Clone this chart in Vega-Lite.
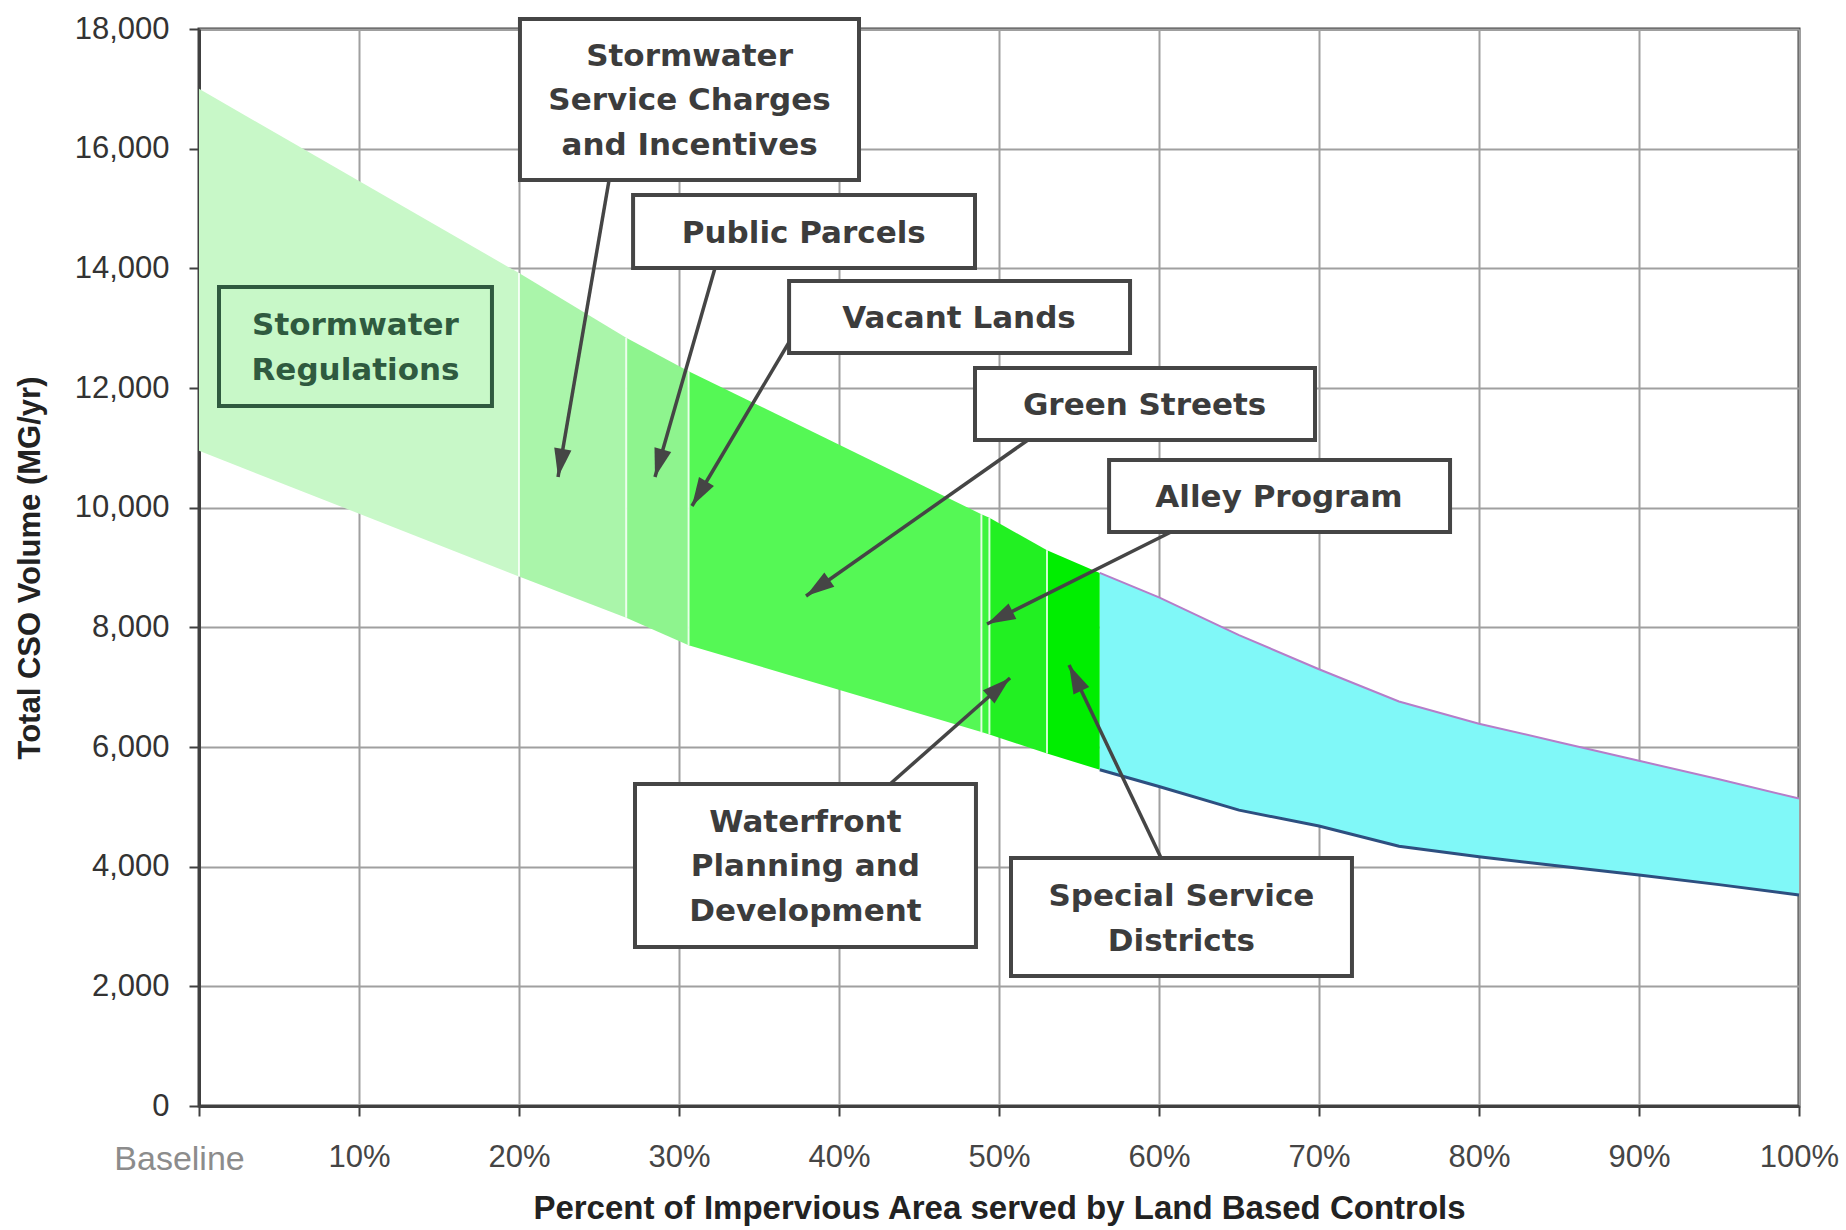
{
  "$schema": "https://vega.github.io/schema/vega-lite/v6.json",
  "description": "Total CSO volume against percent of impervious area served by land based controls",
  "width": 1600,
  "height": 1077,
  "autosize": {"type": "none"},
  "padding": {"left": 199, "top": 29, "right": 47, "bottom": 124},
  "background": "white",
  "config": {
    "view": {"stroke": "#404040", "strokeWidth": 3},
    "font": "Liberation Sans",
    "axis": {
      "labelFlush": false,
      "labelOverlap": false,
      "labelFont": "Liberation Sans",
      "tickSize": 10,
      "tickWidth": 2,
      "tickColor": "#404040",
      "domainColor": "#404040",
      "domainWidth": 3,
      "grid": true,
      "gridColor": "#a0a0a0",
      "gridWidth": 2,
      "titleFont": "Liberation Sans",
      "titleFontWeight": "bold",
      "titleColor": "#222222"
    }
  },
  "datasets": {
    "band": [
      {"x": 0, "up": 17000, "low": 10950, "seg": "A"},
      {"x": 20, "up": 13920, "low": 8850, "seg": "A"},
      {"x": 20, "up": 13920, "low": 8850, "seg": "B"},
      {"x": 26.7, "up": 12840, "low": 8160, "seg": "B"},
      {"x": 26.7, "up": 12840, "low": 8160, "seg": "C"},
      {"x": 30.6, "up": 12280, "low": 7700, "seg": "C"},
      {"x": 30.6, "up": 12280, "low": 7700, "seg": "D"},
      {"x": 48.9, "up": 9890, "low": 6250, "seg": "D"},
      {"x": 48.9, "up": 9890, "low": 6250, "seg": "E"},
      {"x": 49.4, "up": 9830, "low": 6210, "seg": "E"},
      {"x": 49.4, "up": 9830, "low": 6210, "seg": "F"},
      {"x": 53, "up": 9290, "low": 5890, "seg": "F"},
      {"x": 53, "up": 9290, "low": 5890, "seg": "G"},
      {"x": 56.3, "up": 8910, "low": 5620, "seg": "G"},
      {"x": 56.3, "up": 8910, "low": 5620, "seg": "H"},
      {"x": 60, "up": 8500, "low": 5340, "seg": "H"},
      {"x": 65, "up": 7870, "low": 4945, "seg": "H"},
      {"x": 70, "up": 7300, "low": 4680, "seg": "H"},
      {"x": 75, "up": 6760, "low": 4340, "seg": "H"},
      {"x": 80, "up": 6390, "low": 4165, "seg": "H"},
      {"x": 85, "up": 6080, "low": 4010, "seg": "H"},
      {"x": 90, "up": 5770, "low": 3862, "seg": "H"},
      {"x": 95, "up": 5460, "low": 3700, "seg": "H"},
      {"x": 100, "up": 5140, "low": 3527, "seg": "H"}
    ],
    "seps": [
      {"x": 20, "up": 13920, "low": 8850},
      {"x": 26.7, "up": 12840, "low": 8160},
      {"x": 30.6, "up": 12280, "low": 7700},
      {"x": 48.9, "up": 9890, "low": 6250},
      {"x": 49.4, "up": 9830, "low": 6210},
      {"x": 53, "up": 9290, "low": 5890}
    ],
    "boxes": [
      {"label": "Stormwater\nService Charges\nand Incentives", "kind": "box", "x1": 20.06, "x2": 41.25, "y1": 15476, "y2": 18167, "tx": 30.66, "ty": 17540},
      {"label": "Public Parcels", "kind": "box", "x1": 27.13, "x2": 48.5, "y1": 14006, "y2": 15226, "tx": 37.8, "ty": 14576},
      {"label": "Vacant Lands", "kind": "box", "x1": 36.88, "x2": 58.19, "y1": 12585, "y2": 13788, "tx": 47.5, "ty": 13147},
      {"label": "Green Streets", "kind": "box", "x1": 48.5, "x2": 69.75, "y1": 11131, "y2": 12334, "tx": 59.1, "ty": 11693},
      {"label": "Alley Program", "kind": "box", "x1": 56.88, "x2": 78.19, "y1": 9593, "y2": 10797, "tx": 67.5, "ty": 10155},
      {"label": "Stormwater\nRegulations", "kind": "reg", "x1": 1.25, "x2": 18.31, "y1": 11699, "y2": 13688, "tx": 9.78, "ty": 13036},
      {"label": "Waterfront\nPlanning and\nDevelopment", "kind": "box", "x1": 27.25, "x2": 48.56, "y1": 2657, "y2": 5382, "tx": 37.9, "ty": 4730},
      {"label": "Special Service\nDistricts", "kind": "box", "x1": 50.75, "x2": 72.06, "y1": 2173, "y2": 4145, "tx": 61.4, "ty": 3493}
    ],
    "arrows": [
      {"sx": 25.63, "sy": 15476, "tx": 22.44, "ty": 10513, "ang": 189.7},
      {"sx": 32.25, "sy": 14006, "tx": 28.5, "ty": 10513, "ang": 196},
      {"sx": 37.0, "sy": 12819, "tx": 30.81, "ty": 10028, "ang": 210.7},
      {"sx": 51.81, "sy": 11131, "tx": 37.94, "ty": 8524, "ang": 234.9},
      {"sx": 60.75, "sy": 9593, "tx": 49.25, "ty": 8056, "ang": 243.4},
      {"sx": 43.19, "sy": 5382, "tx": 50.69, "ty": 7153, "ang": 48.5},
      {"sx": 60.13, "sy": 4145, "tx": 54.38, "ty": 7370, "ang": 334.5}
    ]
  },
  "layer": [
    {
      "data": {"name": "band"},
      "mark": {"type": "area", "opacity": 1},
      "encoding": {
        "x": {
          "field": "x",
          "type": "quantitative",
          "scale": {"domain": [0, 100], "nice": false},
          "axis": {
            "title": "Percent of Impervious Area served by Land Based Controls",
            "values": [0, 10, 20, 30, 40, 50, 60, 70, 80, 90, 100],
            "labelExpr": "datum.value == 0 ? 'Baseline' : datum.value + '%'",
            "labelFontSize": {"condition": {"test": "datum.value == 0", "value": 34}, "value": 31},
            "labelColor": {"condition": {"test": "datum.value == 0", "value": "#8c8c8c"}, "value": "#454545"},
            "labelOffset": {"condition": {"test": "datum.value == 0", "value": -20}, "value": 0},
            "labelPadding": 26,
            "titleFontSize": 33,
            "titleX": 800,
            "titleY": 112,
            "titleAlign": "center",
            "titleBaseline": "alphabetic"
          }
        },
        "y": {
          "field": "up",
          "type": "quantitative",
          "stack": null,
          "scale": {"domain": [0, 18000], "nice": false},
          "axis": {
            "title": "Total CSO Volume (MG/yr)",
            "values": [0, 2000, 4000, 6000, 8000, 10000, 12000, 14000, 16000, 18000],
            "labelExpr": "format(datum.value, ',')",
            "labelFontSize": 31,
            "labelColor": "#333333",
            "labelPadding": 20,
            "titleFontSize": 31,
            "titleAngle": -90,
            "titleX": -160,
            "titleY": 538.5,
            "titleAlign": "center",
            "titleBaseline": "alphabetic"
          }
        },
        "y2": {"field": "low"},
        "color": {
          "field": "seg",
          "type": "nominal",
          "scale": {
            "domain": ["A", "B", "C", "D", "E", "F", "G", "H"],
            "range": ["#c8f8c8", "#aaf5aa", "#8ef48e", "#55f855", "#3ef43e", "#22f022", "#00ee00", "#80f8f8"]
          },
          "legend": null
        }
      }
    },
    {
      "data": {"name": "band"},
      "transform": [{"filter": "datum.seg == 'H'"}],
      "mark": {"type": "line", "color": "#b57dc9", "strokeWidth": 2},
      "encoding": {
        "x": {"field": "x", "type": "quantitative"},
        "y": {"field": "up", "type": "quantitative"}
      }
    },
    {
      "data": {"name": "band"},
      "transform": [{"filter": "datum.seg == 'H'"}],
      "mark": {"type": "line", "color": "#2d4f80", "strokeWidth": 3},
      "encoding": {
        "x": {"field": "x", "type": "quantitative"},
        "y": {"field": "low", "type": "quantitative"}
      }
    },
    {
      "data": {"name": "seps"},
      "mark": {"type": "rule", "color": "white", "strokeWidth": 2, "opacity": 0.8},
      "encoding": {
        "x": {"field": "x", "type": "quantitative"},
        "y": {"field": "low", "type": "quantitative"},
        "y2": {"field": "up"}
      }
    },
    {
      "data": {"name": "arrows"},
      "mark": {"type": "rule", "color": "#454545", "strokeWidth": 3.5},
      "encoding": {
        "x": {"field": "sx", "type": "quantitative"},
        "y": {"field": "sy", "type": "quantitative"},
        "x2": {"field": "tx"},
        "y2": {"field": "ty"}
      }
    },
    {
      "data": {"name": "arrows"},
      "mark": {"type": "point", "shape": "M0,0L-0.55,1.8L0.55,1.8Z", "filled": true, "size": 1000, "color": "#454545", "opacity": 1},
      "encoding": {
        "x": {"field": "tx", "type": "quantitative"},
        "y": {"field": "ty", "type": "quantitative"},
        "angle": {"field": "ang", "type": "quantitative", "scale": null}
      }
    },
    {
      "data": {"name": "boxes"},
      "mark": {"type": "rect", "strokeWidth": 4},
      "encoding": {
        "x": {"field": "x1", "type": "quantitative"},
        "x2": {"field": "x2"},
        "y": {"field": "y1", "type": "quantitative"},
        "y2": {"field": "y2"},
        "fill": {"condition": {"test": "datum.kind == 'reg'", "value": "transparent"}, "value": "white"},
        "stroke": {"condition": {"test": "datum.kind == 'reg'", "value": "#2f5a3f"}, "value": "#454545"}
      }
    },
    {
      "data": {"name": "boxes"},
      "mark": {"type": "text", "font": "DejaVu Sans", "fontWeight": "bold", "fontSize": 31, "lineBreak": "\n", "lineHeight": 44.5, "align": "center", "baseline": "middle"},
      "encoding": {
        "x": {"field": "tx", "type": "quantitative"},
        "y": {"field": "ty", "type": "quantitative"},
        "text": {"field": "label", "type": "nominal"},
        "color": {"condition": {"test": "datum.kind == 'reg'", "value": "#2f5a3f"}, "value": "#3c3c3c"}
      }
    }
  ]
}
